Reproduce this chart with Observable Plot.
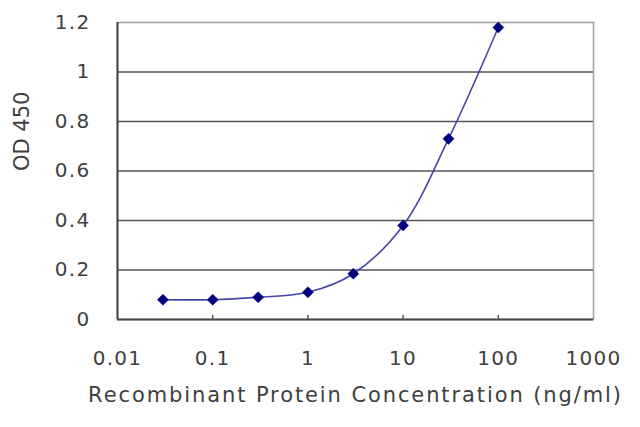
<!DOCTYPE html>
<html>
<head>
<meta charset="utf-8">
<script src="https://cdn.jsdelivr.net/npm/d3@7"></script>
<script src="https://cdn.jsdelivr.net/npm/@observablehq/plot@0.6"></script>
<style>
  html, body { margin: 0; padding: 0; background: #fff; }
  #chart { width: 640px; height: 427px; }
  svg g[aria-label="x-axis tick label"] text,
  svg g[aria-label="y-axis tick label"] text { letter-spacing: 1.3px; }
  svg g[aria-description="x-title"] text { letter-spacing: 1.9px; }
</style>
</head>
<body>
<div id="chart"></div>
<script>
const concentrations = [0.03, 0.1, 0.3, 1, 3, 10, 30, 100];
const od450 = [0.08, 0.08, 0.09, 0.11, 0.185, 0.38, 0.73, 1.18];
const xTicks = [0.01, 0.1, 1, 10, 100, 1000];
const xTickLabels = ["0.01", "0.1", "1", "10", "100", "1000"];
const yTicks = [0, 0.2, 0.4, 0.6, 0.8, 1, 1.2];
const yGrid = [0.2, 0.4, 0.6, 0.8, 1];
const xTitle = "Recombinant Protein Concentration (ng/ml)";
const yTitle = "OD 450";

const data = concentrations.map((c, i) => ({c, v: od450[i]}));
const textColor = "#404040";
const font = "DejaVu Sans, Verdana, sans-serif";

const chart = Plot.plot({
  width: 640,
  height: 427,
  marginLeft: 117,
  marginRight: 47,
  marginTop: 22,
  marginBottom: 108,
  style: {fontFamily: font, background: "#fff", color: textColor},
  x: {type: "log", domain: [0.01, 1000]},
  y: {domain: [0, 1.2]},
  marks: [
    Plot.frame({stroke: "#a0a0a0", strokeWidth: 1.5}),
    Plot.ruleY(yGrid, {stroke: "#555", strokeWidth: 1.6}),
    Plot.ruleY([0], {stroke: "#444", strokeWidth: 2}),
    Plot.ruleX([0.01], {stroke: "#444", strokeWidth: 2}),
    Plot.axisX({ticks: xTicks.slice(1, -1), tickSize: -4, tickFormat: () => "", stroke: "#555", strokeWidth: 1.5, label: null}),
    Plot.axisX({ticks: xTicks, tickSize: 0, tickPadding: 31, fontSize: 20,
      tickFormat: d => xTickLabels[xTicks.indexOf(d)], fill: textColor, label: null}),
    Plot.axisY({ticks: yTicks, tickSize: 0, tickPadding: 27, fontSize: 20,
      tickFormat: d => String(d), fill: textColor, label: null}),
    Plot.text([xTitle], {frameAnchor: "bottom", dy: 82, fontSize: 21, fill: textColor, ariaDescription: "x-title"}),
    Plot.text([yTitle], {frameAnchor: "left", dx: -95, rotate: -90, fontSize: 21, fill: textColor}),
    Plot.line(data, {x: "c", y: "v", stroke: "#4646a8", strokeWidth: 1.6, curve: "catmull-rom"}),
    Plot.dot(data, {x: "c", y: "v", symbol: "diamond2", r: 5, fill: "#00007f", stroke: "#00007f", strokeWidth: 0.5})
  ]
});
document.getElementById("chart").appendChild(chart);
</script>
</body>
</html>
